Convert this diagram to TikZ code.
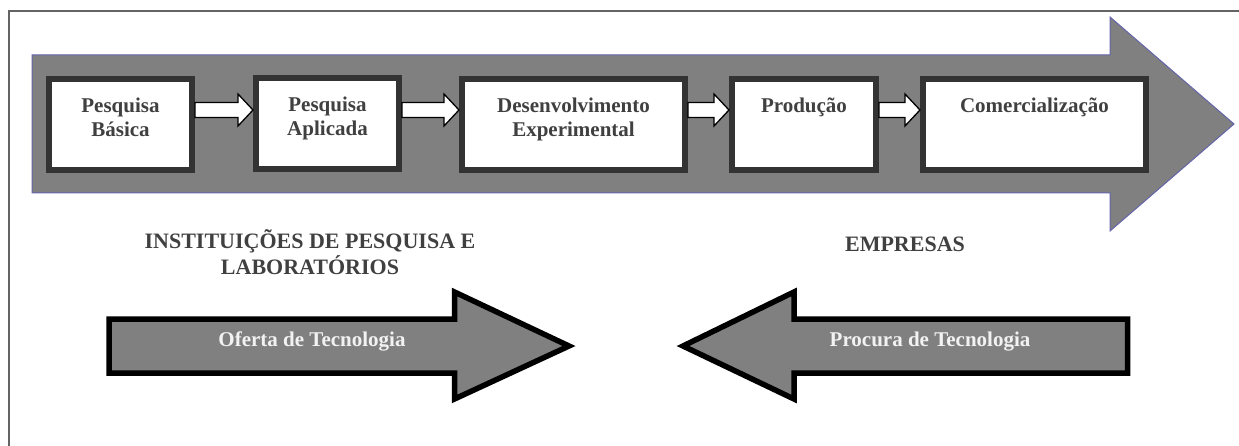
\documentclass[tikz,border=0pt]{standalone}
\usepackage{fontspec}
\setmainfont{Liberation Serif}
\usetikzlibrary{calc}
\definecolor{framegray}{RGB}{100,100,100}
\definecolor{bigfill}{RGB}{128,128,128}
\definecolor{bigline}{RGB}{100,100,170}
\definecolor{boxline}{RGB}{51,51,51}
\definecolor{txtgray}{RGB}{64,64,64}
\definecolor{txtlight}{RGB}{242,242,242}
\tikzset{
  stagebox/.style={draw=boxline, fill=white, line width=6pt, minimum height=91pt, inner sep=0pt},
  stagetext/.style={anchor=north, inner sep=0pt, align=center, text=txtgray,
     font=\bfseries\fontsize{21}{24}\selectfont},
  headtext/.style={inner sep=0pt, align=center, text=txtgray,
     font=\bfseries\fontsize{22}{26}\selectfont},
  arrtext/.style={inner sep=0pt, anchor=base, text=txtlight,
     font=\bfseries\fontsize{21}{24}\selectfont},
  smallarr/.style={draw=black, fill=white, line width=1.3pt, line join=miter},
  bigarr/.style={draw=bigline, fill=bigfill, line width=1pt, line join=miter},
  flowarr/.style={draw=black, fill=bigfill, line width=5.5pt, line join=miter},
}
\newcommand\stagearrow[2]{%
  \draw[smallarr] let \p1=(#1.east), \p2=(#2.west) in
    (\x1,-102.5pt) -- (\x2-15pt,-102.5pt) -- (\x2-15pt,-94pt) -- (\x2,-110pt)
    -- (\x2-15pt,-126pt) -- (\x2-15pt,-117.5pt) -- (\x1,-117.5pt) -- cycle;}
\begin{document}
\begin{tikzpicture}[x=1pt,y=-1pt]
\useasboundingbox (0,0) rectangle (1239,446);
% frame
\draw[framegray, line width=2pt] (9,446) -- (9,11.5) -- (1239,11.5);
% big arrow
\draw[bigarr] (32,55) -- (1110,55) -- (1110,17) -- (1234,124) -- (1110,231)
  -- (1110,193) -- (32,193) -- cycle;
% stage boxes
\node[stagebox, minimum width=143pt] (b1) at (120.5,124.5) {};
\node[stagebox, minimum width=143pt] (b2) at (327.5,124) {};
\node[stagebox, minimum width=223pt] (b3) at (573.5,125) {};
\node[stagebox, minimum width=144pt] (b4) at (804,125) {};
\node[stagebox, minimum width=223pt] (b5) at (1034.5,125) {};
\node[stagetext] (t1) at ([yshift=-18pt]b1.north) {\rule{0pt}{18pt}Pesquisa\\Básica};
\node[stagetext] (t2) at ([yshift=-18pt]b2.north) {\rule{0pt}{18pt}Pesquisa\\Aplicada};
\node[stagetext] (t3) at ([yshift=-18pt]b3.north) {\rule{0pt}{18pt}Desenvolvimento\\Experimental};
\node[stagetext] (t4) at ([yshift=-18pt]b4.north) {\rule{0pt}{18pt}Produção};
\node[stagetext] (t5) at ([yshift=-18pt]b5.north) {\rule{0pt}{18pt}Comercialização};
\stagearrow{b1}{b2}
\stagearrow{b2}{b3}
\stagearrow{b3}{b4}
\stagearrow{b4}{b5}
% headings
\node[headtext, anchor=north] (h1) at (310,229) {\rule{0pt}{19pt}INSTITUIÇÕES DE PESQUISA E\\LABORATÓRIOS};
\node[headtext, anchor=base] (h2) at (905,252) {EMPRESAS};
% flow arrows
\draw[flowarr] (109,319) -- (454.5,319) -- (454.5,292) -- (569,346) -- (454.5,399)
  -- (454.5,373) -- (109,373) -- cycle;
\draw[flowarr] (1127.5,319) -- (794,319) -- (794,292) -- (683,346) -- (794,399)
  -- (794,373) -- (1127.5,373) -- cycle;
\node[arrtext] (o1) at (312,346) {Oferta de Tecnologia};
\node[arrtext] (o2) at (930,346) {Procura de Tecnologia};
\end{tikzpicture}
\end{document}
